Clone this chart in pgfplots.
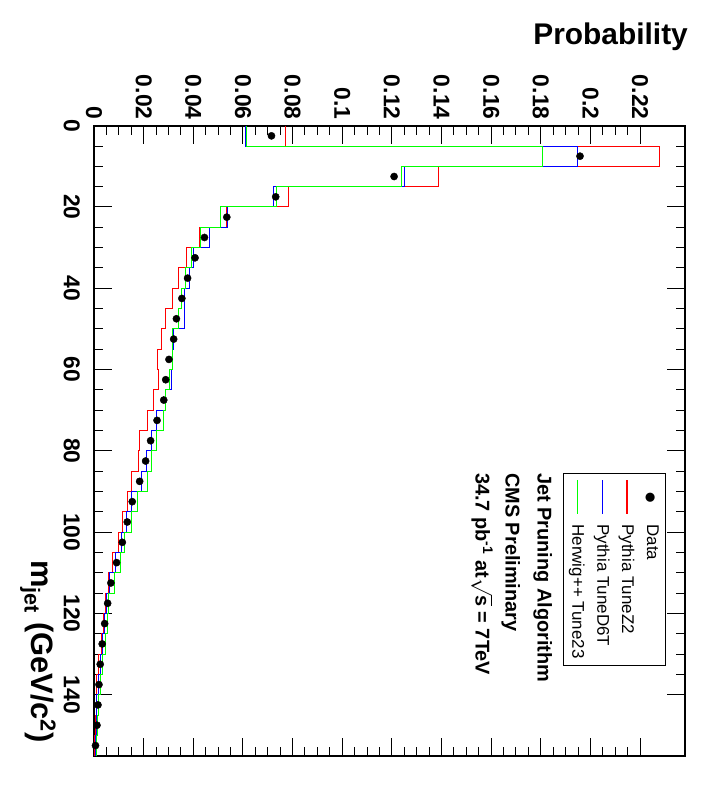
\documentclass[border=0pt]{standalone}
\usepackage{fontspec}
\setmainfont{Liberation Sans}
\newfontfamily\dejavu{DejaVu Sans}
\usepackage{pgfplots}
\pgfplotsset{compat=1.18}
\begin{document}
\begin{tikzpicture}
\useasboundingbox (0,0) rectangle (724bp,788bp);
\begin{axis}[
  at={(94bp,32.3bp)}, anchor=south west,
  scale only axis, width=591bp, height=630bp,
  xmin=0, xmax=0.2381, ymin=0, ymax=155, y dir=reverse,
  xtick={0,0.02,0.04,0.06,0.08,0.1,0.12,0.14,0.16,0.18,0.2,0.22},
  ytick={0,20,40,60,80,100,120,140},
  minor x tick num=3, minor y tick num=3,
  xtick pos=both, ytick pos=both,
  xticklabel pos=upper, yticklabel pos=lower,
  scaled x ticks=false,
  xticklabel={\pgfmathprintnumber[fixed,precision=2,assume math mode=true]{\tick}},
  yticklabel={\pgfmathprintnumber[assume math mode=true]{\tick}},
  major tick length=18bp, minor tick length=9bp,
  tick style={black, line width=1bp},
  axis line style={line width=2bp},
  xticklabel style={rotate=-90, anchor=east, inner sep=0pt, font=\bfseries\fontsize{23}{25}\selectfont},
  yticklabel style={rotate=-90, anchor=north, inner sep=0pt, font=\bfseries\fontsize{23}{25}\selectfont},
  xticklabel shift=6bp, yticklabel shift=14bp,
]
% Pythia TuneZ2
\addplot[red, line width=1bp] coordinates {
(0.0770,0) (0.0770,5) (0.2278,5) (0.2278,10) (0.1387,10) (0.1387,15)
(0.0782,15) (0.0782,20) (0.0533,20) (0.0533,25) (0.0426,25) (0.0426,30)
(0.0372,30) (0.0372,35) (0.0342,35) (0.0342,40) (0.0318,40) (0.0318,45)
(0.0287,45) (0.0287,50) (0.0271,50) (0.0271,55) (0.0254,55) (0.0254,60)
(0.0260,60) (0.0260,65) (0.0240,65) (0.0240,70) (0.0215,70) (0.0215,75)
(0.0184,75) (0.0184,80) (0.0181,80) (0.0181,85) (0.0150,85) (0.0150,90)
(0.0134,90) (0.0134,95) (0.0114,95) (0.0114,100) (0.0099,100) (0.0099,105)
(0.0074,105) (0.0074,110) (0.0058,110) (0.0058,115) (0.0047,115) (0.0047,120)
(0.0039,120) (0.0039,125) (0.0029,125) (0.0029,130) (0.0020,130) (0.0020,135)
(0.0012,135) (0.0012,140) (0.0009,140) (0.0009,145) (0.0006,145) (0.0006,150)
(0.0004,150) (0.0004,155)
};
% Pythia TuneD6T
\addplot[blue, line width=1bp] coordinates {
(0.0609,0) (0.0609,5) (0.1947,5) (0.1947,10) (0.1252,10) (0.1252,15)
(0.0722,15) (0.0722,20) (0.0537,20) (0.0537,25) (0.0464,25) (0.0464,30)
(0.0399,30) (0.0399,35) (0.0385,35) (0.0385,40) (0.0366,40) (0.0366,45)
(0.0363,45) (0.0363,50) (0.0321,50) (0.0321,55) (0.0318,55) (0.0318,60)
(0.0312,60) (0.0312,65) (0.0289,65) (0.0289,70) (0.0251,70) (0.0251,75)
(0.0231,75) (0.0231,80) (0.0211,80) (0.0211,85) (0.0192,85) (0.0192,90)
(0.0150,90) (0.0150,95) (0.0130,95) (0.0130,100) (0.0110,100) (0.0110,105)
(0.0087,105) (0.0087,110) (0.0063,110) (0.0063,115) (0.0049,115) (0.0049,120)
(0.0041,120) (0.0041,125) (0.0036,125) (0.0036,130) (0.0025,130) (0.0025,135)
(0.0017,135) (0.0017,140) (0.0012,140) (0.0012,145) (0.0009,145) (0.0009,150)
(0.0006,150) (0.0006,155)
};
% Herwig++ Tune23
\addplot[green, line width=1bp] coordinates {
(0.0614,0) (0.0614,5) (0.1806,5) (0.1806,10) (0.1240,10) (0.1240,15)
(0.0735,15) (0.0735,20) (0.0509,20) (0.0509,25) (0.0429,25) (0.0429,30)
(0.0392,30) (0.0392,35) (0.0369,35) (0.0369,40) (0.0354,40) (0.0354,45)
(0.0340,45) (0.0340,50) (0.0318,50) (0.0318,55) (0.0315,55) (0.0315,60)
(0.0305,60) (0.0305,65) (0.0287,65) (0.0287,70) (0.0282,70) (0.0282,75)
(0.0251,75) (0.0251,80) (0.0231,80) (0.0231,85) (0.0217,85) (0.0217,90)
(0.0177,90) (0.0177,95) (0.0150,95) (0.0150,100) (0.0123,100) (0.0123,105)
(0.0106,105) (0.0106,110) (0.0084,110) (0.0084,115) (0.0060,115) (0.0060,120)
(0.0055,120) (0.0055,125) (0.0047,125) (0.0047,130) (0.0033,130) (0.0033,135)
(0.0025,135) (0.0025,140) (0.0020,140) (0.0020,145) (0.0016,145) (0.0016,150)
(0.0012,150) (0.0012,155)
};
% Data
\addplot[only marks, mark=*, mark size=3.6bp, black] coordinates {
(0.0715,2.5) (0.1958,7.5) (0.1209,12.5) (0.0732,17.5) (0.0535,22.5) (0.0445,27.5)
(0.0407,32.5) (0.0377,37.5) (0.0354,42.5) (0.0332,47.5) (0.0321,52.5) (0.0302,57.5)
(0.0289,62.5) (0.0281,67.5) (0.0254,72.5) (0.0228,77.5) (0.0208,82.5) (0.0184,87.5)
(0.0154,92.5) (0.0134,97.5) (0.0114,102.5) (0.0091,107.5) (0.0068,112.5) (0.0055,117.5)
(0.0043,122.5) (0.0033,127.5) (0.0025,132.5) (0.0020,137.5) (0.0016,142.5) (0.0012,147.5)
(0.0006,152.5)
};
\end{axis}
% texts, placed in page coordinates (bp from the lower left corner)
\node[rotate=-90, anchor=base west, inner sep=0pt, font=\bfseries\fontsize{20}{24}\selectfont]
  at (537.7bp,315bp) {Jet Pruning Algorithm};
\node[rotate=-90, anchor=base west, inner sep=0pt, font=\bfseries\fontsize{20}{24}\selectfont]
  at (505.7bp,315bp) {CMS Preliminary};
\node[rotate=-90, anchor=base west, inner sep=0pt, font=\bfseries\fontsize{20}{24}\selectfont]
  at (475.7bp,315bp) {34.7 pb\textsuperscript{-1} at$\sqrt{\mbox{s}}$ = 7TeV};
\node[anchor=base east, inner sep=0pt, font=\bfseries\fontsize{30}{34}\selectfont]
  at (688bp,743bp) {Probability};
\node[rotate=-90, anchor=north east, inner sep=0pt, font=\bfseries\fontsize{31}{34}\selectfont]
  at (56bp,45bp) {m\textsubscript{jet} (GeV/c\textsuperscript{2})};
% legend
\node[rotate=-90, anchor=north west, draw=black, line width=0.9bp, fill=white,
      inner xsep=7bp, inner ysep=1bp, font=\fontsize{17}{25}\selectfont]
  at (666bp,315bp) {%
  \begin{tabular}{@{}l@{\hspace{10bp}}l@{}}
  \makebox[34bp]{\dejavu\fontsize{12}{12}\selectfont ●} & Data\\
  \textcolor{red}{\rule[0.25em]{34bp}{1.3bp}} & Pythia TuneZ2\\
  \textcolor{blue}{\rule[0.25em]{34bp}{1.3bp}} & Pythia TuneD6T\\
  \textcolor{green}{\rule[0.25em]{34bp}{1.3bp}} & Herwig++ Tune23
  \end{tabular}};
\end{tikzpicture}
\end{document}
